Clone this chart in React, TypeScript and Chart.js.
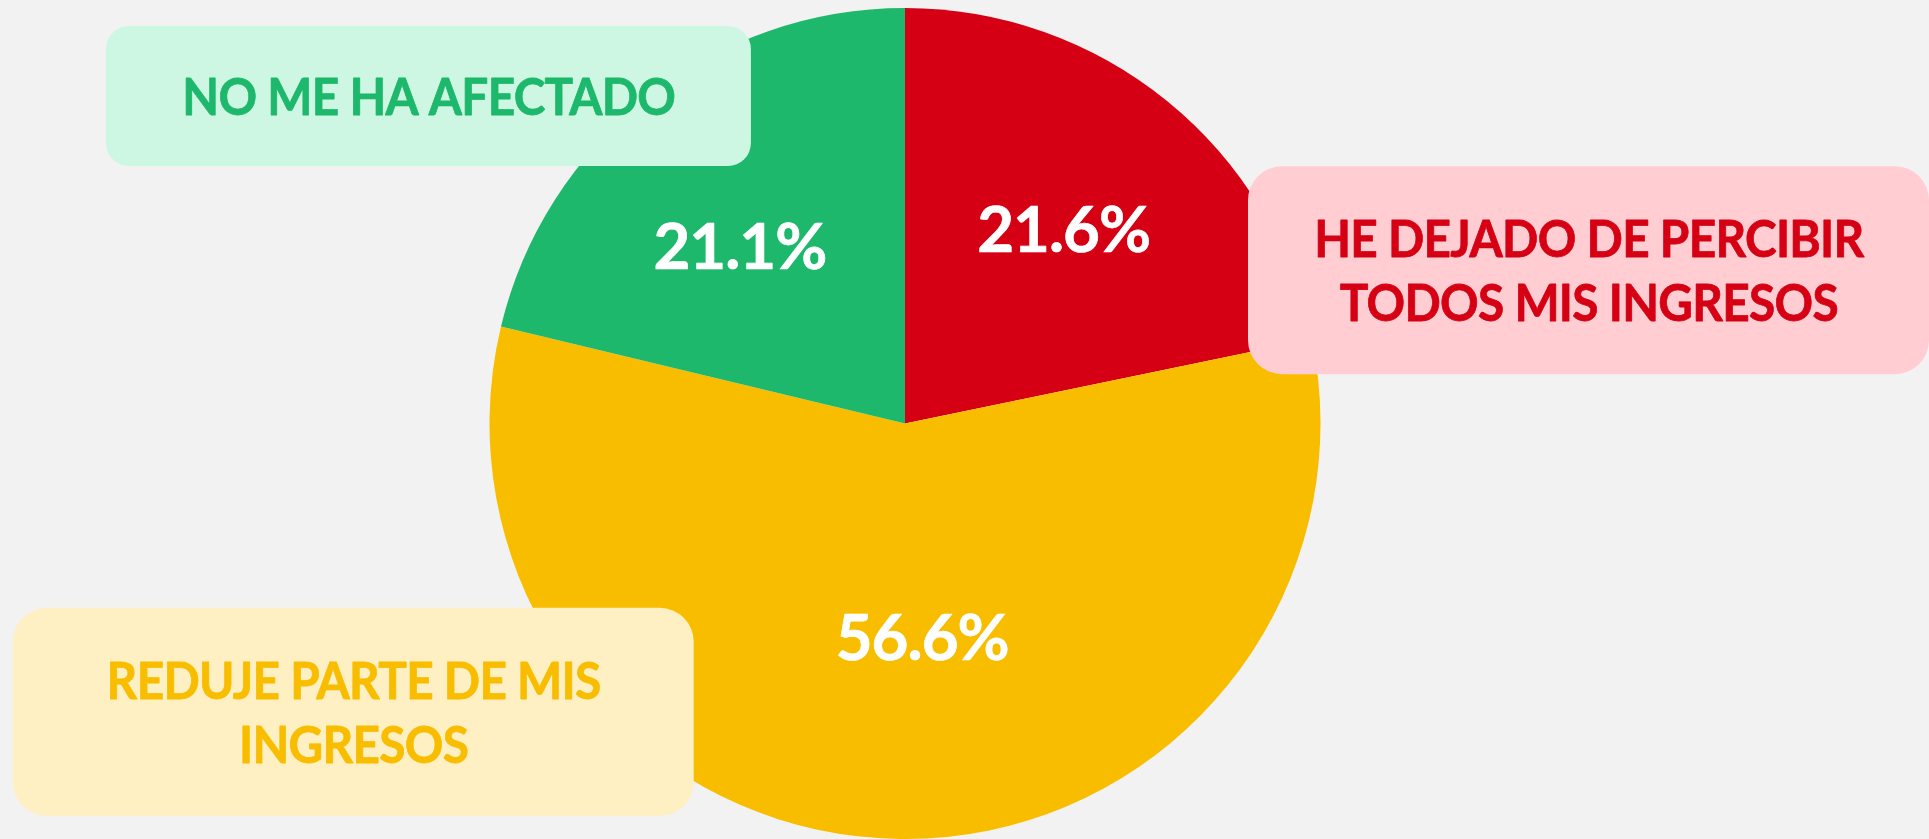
import React, { useEffect, useRef } from "react";
import { Chart, registerables } from "chart.js";

Chart.register(...registerables);

// ---- data ----
const categoryLines: string[][] = [
  ["HE DEJADO DE PERCIBIR", "TODOS MIS INGRESOS"],
  ["REDUJE PARTE DE MIS", "INGRESOS"],
  ["NO ME HA AFECTADO"],
];
const categories: string[] = categoryLines.map((l) => l.join(" "));
const values: number[] = [21.6, 56.6, 21.1];

// ---- styles ----
const sliceColors = ["#d50013", "#f9bd00", "#1db86b"];
const boxFill = ["#ffcdd2", "#fef0c2", "#cef7e3"];
const boxText = ["#d50013", "#f9bd00", "#1db86b"];
const FONT = 'Lato, Roboto, "Liberation Sans", sans-serif';
const WEIGHT = "bold";

// callout boxes: centre offset in pie radii, size in px
const boxLayout = [
  { cx: 1.645, cy: -0.369, w: 681, h: 208, r: 34 },
  { cx: -1.328, cy: 0.694, w: 681, h: 208, r: 34 },
  { cx: -1.147, cy: -0.788, w: 645, h: 140, r: 23 },
];
// nudges of the percentage labels from the arc centroid
const labelNudge = [
  [27, -34],
  [20, 6],
  [-37, -15],
];

const BOX_CAP = 38; // cap height of callout text, px
const BOX_LINE = 64;
const BOX_WIDTH_PER_CAP = 12.97; // width of "NO ME HA AFECTADO" per cap height
const BOX_TRACKING = -0.015; // letter spacing, em
const PCT_CAP = 46.5;
const PCT_WIDTH_PER_CAP = 3.72; // width of "21.1%" per cap height
const PCT_TRACKING = -0.015;
const EMBOLDEN = 0.7; // extra stroke to thicken strokes, px

function fitFont(
  ctx: CanvasRenderingContext2D,
  cap: number,
  sample: string,
  widthPerCap: number,
  tracking: number
) {
  (ctx as any).letterSpacing = "0px";
  ctx.font = `${WEIGHT} 100px ${FONT}`;
  const capRatio = ctx.measureText("H").actualBoundingBoxAscent / 100;
  const size = cap / capRatio;
  ctx.font = `${WEIGHT} ${size}px ${FONT}`;
  const spacing = tracking * size;
  (ctx as any).letterSpacing = `${spacing}px`;
  const w = ctx.measureText(sample).width;
  const sx = (widthPerCap * cap) / w;
  return { size, sx, spacing };
}

function drawScaled(
  ctx: CanvasRenderingContext2D,
  text: string,
  x: number,
  baseline: number,
  f: { size: number; sx: number; spacing: number },
  color: string
) {
  ctx.font = `${WEIGHT} ${f.size}px ${FONT}`;
  (ctx as any).letterSpacing = `${f.spacing}px`;
  ctx.textAlign = "center";
  ctx.textBaseline = "alphabetic";
  ctx.fillStyle = color;
  ctx.strokeStyle = color;
  ctx.lineJoin = "round";
  ctx.save();
  ctx.translate(x - (f.spacing * f.sx) / 2, baseline);
  ctx.scale(f.sx, 1);
  ctx.lineWidth = EMBOLDEN / f.sx;
  ctx.fillText(text, 0, 0);
  ctx.strokeText(text, 0, 0);
  ctx.restore();
}

const calloutPlugin = {
  id: "callouts",
  afterDatasetsDraw(chart: any) {
    const ctx: CanvasRenderingContext2D = chart.ctx;
    const meta = chart.getDatasetMeta(0);
    ctx.save();
    const boxFont = fitFont(ctx, BOX_CAP, "NO ME HA AFECTADO", BOX_WIDTH_PER_CAP, BOX_TRACKING);
    meta.data.forEach((arc: any, i: number) => {
      const p = arc.getProps(["x", "y", "outerRadius"], true);
      const L = boxLayout[i];
      const bx = p.x + L.cx * p.outerRadius;
      const by = p.y + L.cy * p.outerRadius;
      ctx.fillStyle = boxFill[i];
      ctx.beginPath();
      (ctx as any).roundRect(bx - L.w / 2, by - L.h / 2, L.w, L.h, L.r);
      ctx.fill();

      const lines = categoryLines[i];
      const n = lines.length;
      lines.forEach((line, k) => {
        const baseline = by - ((n - 1) * BOX_LINE) / 2 + k * BOX_LINE + BOX_CAP / 2;
        drawScaled(ctx, line, bx, baseline, boxFont, boxText[i]);
      });
    });
    const pctFont = fitFont(ctx, PCT_CAP, "21.1%", PCT_WIDTH_PER_CAP, PCT_TRACKING);
    meta.data.forEach((arc: any, i: number) => {
      const p = arc.getProps(["x", "y", "outerRadius", "startAngle", "endAngle"], true);
      const mid = (p.startAngle + p.endAngle) / 2;
      const lx = p.x + Math.cos(mid) * p.outerRadius * 0.5 + labelNudge[i][0];
      const ly = p.y + Math.sin(mid) * p.outerRadius * 0.5 + labelNudge[i][1];
      drawScaled(ctx, values[i].toFixed(1) + "%", lx, ly + PCT_CAP / 2, pctFont, "#ffffff");
    });
    (ctx as any).letterSpacing = "0px";
    ctx.restore();
  },
};

export default function App() {
  const canvasRef = useRef<HTMLCanvasElement | null>(null);

  useEffect(() => {
    const canvas = canvasRef.current;
    if (!canvas) return;
    const chart = new Chart(canvas, {
      type: "pie",
      data: {
        labels: categories,
        datasets: [
          {
            data: values,
            backgroundColor: sliceColors,
            borderWidth: 0,
            hoverOffset: 0,
          },
        ],
      },
      options: {
        animation: false,
        responsive: true,
        maintainAspectRatio: false,
        layout: { padding: { top: 8, bottom: 0, left: 0, right: 119 } },
        plugins: {
          legend: { display: false },
          tooltip: { enabled: false },
        },
        events: [],
      },
      plugins: [calloutPlugin],
    });
    return () => chart.destroy();
  }, []);

  return (
    <div style={{ position: "fixed", inset: 0, background: "#f2f2f2" }}>
      <div style={{ position: "absolute", left: 0, top: 0, right: 0, bottom: 0 }}>
        <canvas ref={canvasRef} />
      </div>
    </div>
  );
}
